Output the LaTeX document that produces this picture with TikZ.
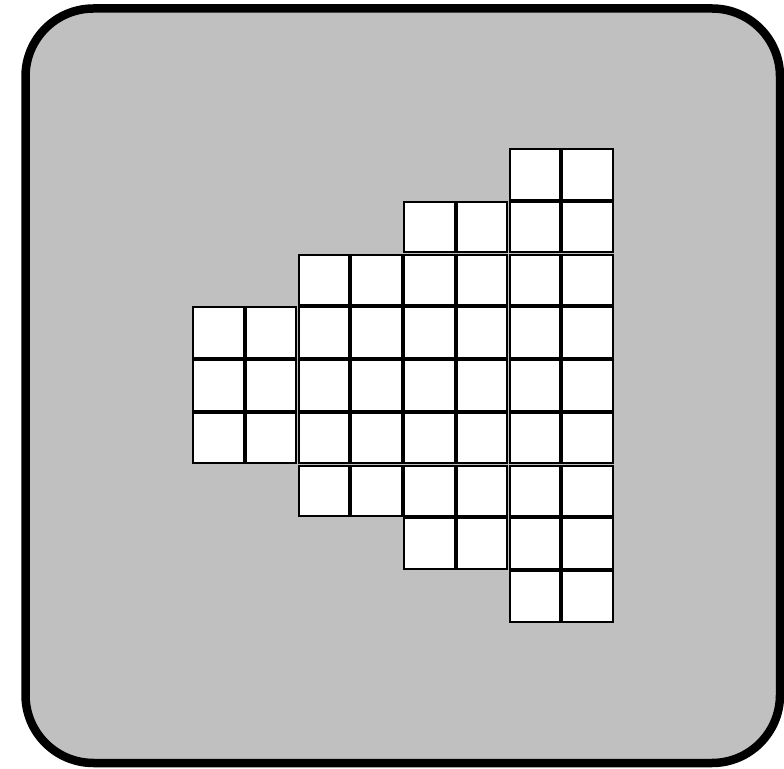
\documentclass[tikz,border=0pt]{standalone}
\usepackage{xcolor}
\usepackage{tikz}
\usetikzlibrary{positioning}
\definecolor{panelGray}{RGB}{192, 192, 192}

\begin{document}
\begin{tikzpicture}[
    x=1pt, y=1pt,
    panel/.style={
        draw=black,
        line width=8.5pt,
        fill=panelGray,
        rounded corners=68pt
    },
    cell/.style={
        rectangle,
        draw=black,
        line width=2pt,
        fill=white,
        minimum size=50.7pt,
        inner sep=0pt
    }
]
\useasboundingbox (0,0) rectangle (784,768);

% Panel
\draw[panel] (25.5,5) rectangle (780,759.5);

% Cells, row by row (first column of each row)
\foreach \s [count=\r from 0] in {6,4,2,0,0,0,2,4,6} {
    \foreach \c in {\s,...,7} {
        \node[cell] (cell-\r-\c) at ({192+52.75*(\c+0.5)}, {620-52.75*(\r+0.5)}) {};
    }
}

\end{tikzpicture}
\end{document}
